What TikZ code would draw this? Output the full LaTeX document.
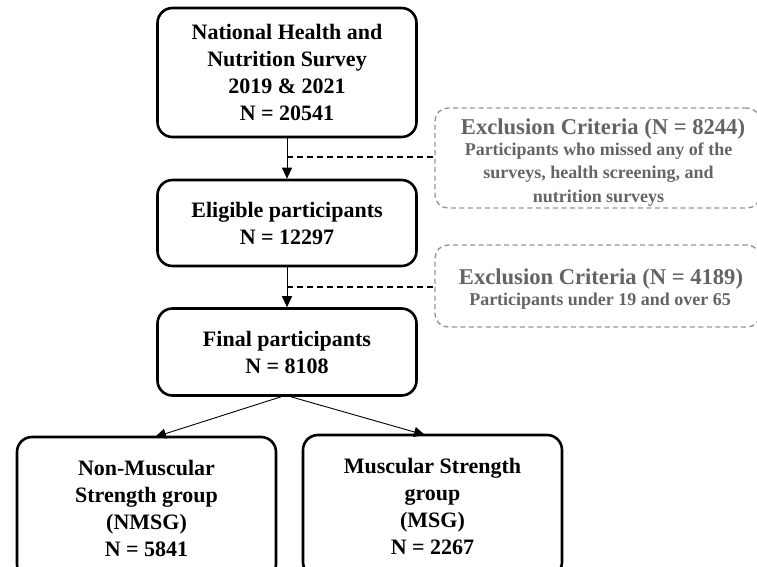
\documentclass[tikz,border=0pt]{standalone}
\usepackage{fontspec}
\setmainfont{Liberation Serif}
\usetikzlibrary{arrows.meta}
\definecolor{exgray}{RGB}{100,100,100}
\definecolor{exborder}{RGB}{150,150,150}
\tikzset{
  mainbox/.style={draw=black, line width=2.6pt, rounded corners=15pt, minimum width=259pt,
    align=center, inner sep=0pt, font=\bfseries\fontsize{22}{27}\selectfont},
  exbox/.style={draw=exborder, line width=1.4pt, dash pattern=on 5pt off 3.5pt, rounded corners=13pt,
    minimum width=325pt, inner sep=0pt},
  extitle/.style={inner sep=0pt, text=exgray, font=\bfseries\fontsize{22.6}{26}\selectfont},
  exbody/.style={align=center, inner sep=0pt, text=exgray, font=\bfseries\fontsize{18}{23.5}\selectfont},
  flow/.style={line width=0.9pt, -{Triangle[length=11pt,width=10pt]}},
  side/.style={line width=1.8pt, dash pattern=on 6pt off 4pt},
}
\begin{document}
\begin{tikzpicture}[x=1pt,y=-1pt]
\useasboundingbox (0,0) rectangle (757,567);
\clip (0,0) rectangle (757,567);
\node[mainbox, minimum height=129pt] (top) at (287,72.5) {National Health and\\Nutrition Survey\\2019 \& 2021\\N = 20541};
\node[mainbox, minimum height=86pt] (elig) at (287,223) {Eligible participants\\N = 12297};
\node[mainbox, minimum height=87pt] (final) at (287,352) {Final participants\\N = 8108};
\node[mainbox, minimum height=142pt] (nmsg) at (146.5,508) {Non-Muscular\\Strength group\\(NMSG)\\N = 5841};
\node[mainbox, minimum height=142pt] (msg) at (432.5,506) {Muscular Strength\\group\\(MSG)\\N = 2267};
\node[exbox, minimum height=100pt] (ex1) at (597.5,158) {};
\node[exbox, minimum height=82pt] (ex2) at (597.5,286) {};
\node[extitle] (ex1t) at (603,128.7) {Exclusion Criteria (N = 8244)};
\node[exbody] (ex1b) at (598.5,174.4) {Participants who missed any of the\\surveys, health screening, and\\nutrition surveys};
\node[extitle] (ex2t) at (601,278.7) {Exclusion Criteria (N = 4189)};
\node[exbody] (ex2b) at (600,300.8) {Participants under 19 and over 65};
\draw[flow] (top.south) -- (elig.north);
\draw[side] (287,157) coordinate (j1) -- (ex1.west |- j1);
\draw[flow] (elig.south) -- (final.north);
\draw[side] (287,287) coordinate (j2) -- (ex2.west |- j2);
\coordinate (tipL) at (155,437);
\coordinate (tipR) at (425,435);
\draw[flow] ([xshift=-6pt]final.south) -- (tipL);
\draw[flow] ([xshift=4pt]final.south) -- (tipR);
\end{tikzpicture}
\end{document}
